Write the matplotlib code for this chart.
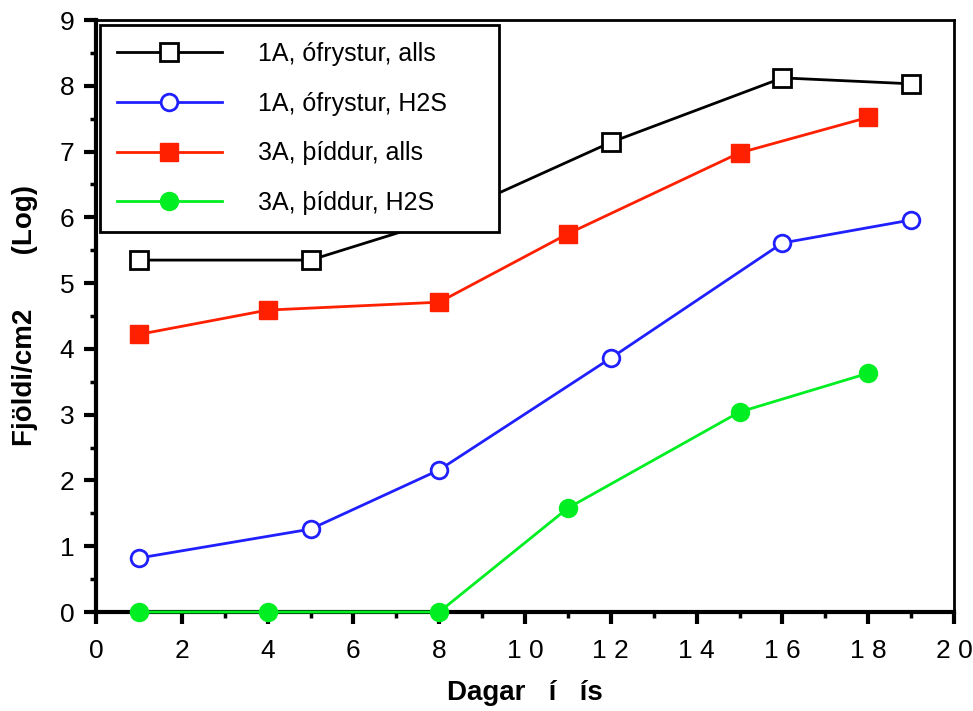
import matplotlib.pyplot as plt
from matplotlib.ticker import MultipleLocator, FuncFormatter

plt.rcParams['font.family'] = ['Liberation Sans', 'DejaVu Sans']

# days on ice
days_1a_alls = [1, 5, 8, 12, 16, 19]
days_1a_h2s = [1, 5, 8, 12, 16, 19]
days_3a_alls = [1, 4, 8, 11, 15, 18]
days_3a_h2s = [1, 4, 8, 11, 15, 18]

# log counts per cm2
log_1a_alls = [5.35, 5.35, 5.96, 7.14, 8.12, 8.03]
log_1a_h2s = [0.82, 1.26, 2.16, 3.86, 5.61, 5.96]
log_3a_alls = [4.22, 4.59, 4.71, 5.75, 6.98, 7.52]
log_3a_h2s = [0.0, 0.0, 0.0, 1.58, 3.04, 3.63]

labels = ['1A, ófrystur, alls', '1A, ófrystur, H2S', '3A, þíddur, alls', '3A, þíddur, H2S']


def main():
    fig = plt.figure(figsize=(9.73, 7.11), dpi=100)
    ax = fig.add_axes([96 / 973, 99 / 711, 858 / 973, 592 / 711])

    ax.plot(days_1a_alls, log_1a_alls, '-s', color='black', lw=2, ms=12.5,
            mfc='white', mec='black', mew=2, label=labels[0])
    ax.plot(days_1a_h2s, log_1a_h2s, '-o', color='#2020ff', lw=2, ms=12,
            mfc='white', mec='#2020ff', mew=2, label=labels[1])
    ax.plot(days_3a_alls, log_3a_alls, '-s', color='#ff2000', lw=2, ms=13,
            mfc='#ff2000', mec='#ff2000', label=labels[2])
    ax.plot(days_3a_h2s, log_3a_h2s, '-o', color='#00ee22', lw=2, ms=13,
            mfc='#00ee22', mec='#00ee22', label=labels[3], clip_on=False, zorder=5)

    ax.set_xlim(0, 20)
    ax.set_ylim(0, 9)
    ax.xaxis.set_major_locator(MultipleLocator(2))
    ax.xaxis.set_minor_locator(MultipleLocator(1))
    ax.yaxis.set_major_locator(MultipleLocator(1))
    ax.yaxis.set_minor_locator(MultipleLocator(0.5))
    # spaced digits like the original
    ax.xaxis.set_major_formatter(FuncFormatter(lambda v, p: ' '.join(str(int(v)))))

    for s in ax.spines.values():
        s.set_linewidth(2)
    ax.spines['left'].set_linewidth(3)
    ax.spines['bottom'].set_linewidth(3)
    ax.tick_params(which='major', direction='out', length=8.5, width=3, labelsize=19)
    ax.tick_params(axis='x', which='major', pad=11)
    ax.tick_params(axis='y', which='major', pad=7)
    ax.tick_params(which='minor', direction='out', length=4.5, width=2.5)
    ax.tick_params(top=False, right=False, which='both')

    ax.set_xlabel('Dagar   í   ís', fontsize=20, fontweight='bold', labelpad=12)
    ax.set_ylabel('Fjöldi/cm2       (Log)', fontsize=20, fontweight='bold', labelpad=16)

    leg = ax.legend(loc='upper left', bbox_to_anchor=(100 / 973, 1 - 25 / 711),
                    bbox_transform=fig.transFigure, fontsize=18, handlelength=4.2,
                    handletextpad=1.45, labelspacing=1.03, borderpad=0.67,
                    borderaxespad=0, fancybox=False, framealpha=1)
    leg.get_frame().set_edgecolor('black')
    leg.get_frame().set_linewidth(2)
    for t in leg.get_texts():
        t.set_text(t.get_text() + '     ')

    fig.savefig('out.png', dpi=100)


if __name__ == '__main__':
    main()
